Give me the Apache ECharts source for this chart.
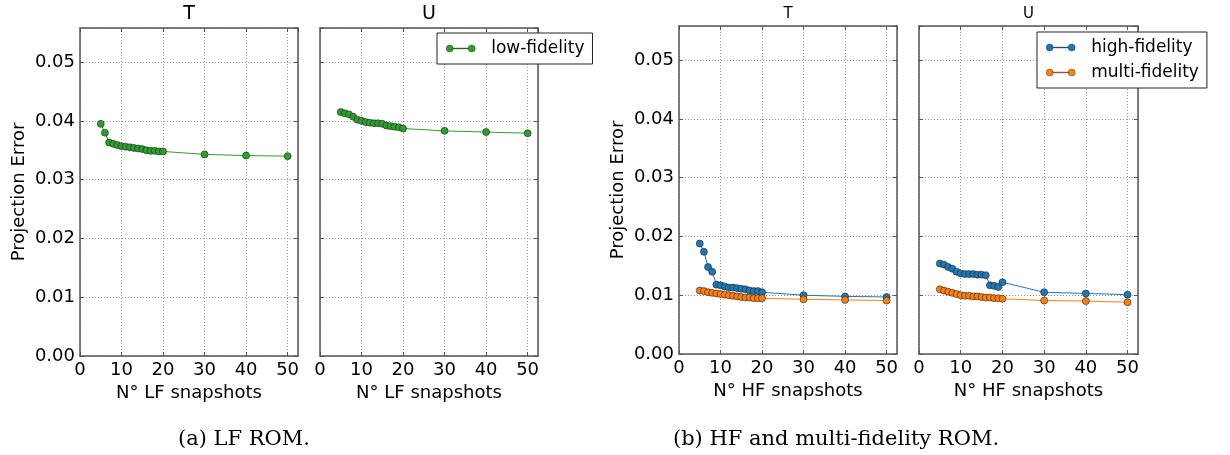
<!DOCTYPE html>
<html>
<head>
<meta charset="utf-8">
<title>Projection error</title>
<script src="https://cdn.jsdelivr.net/npm/echarts@6/dist/echarts.min.js"></script>
<style>
    html, body {
        margin: 0;
        padding: 0;
        background: #fff;
    }
    #chart {
        width: 1230px;
        height: 455px;
    }
</style>
</head>
<body>
<div id="chart"></div>
<script>
// number of snapshots (x values, same for every curve)
const snapshots = [5, 6, 7, 8, 9, 10, 11, 12, 13, 14, 15, 16, 17, 18, 19, 20, 30, 40, 50];

// (a) LF ROM
const lfT = [0.0395, 0.0380, 0.0363, 0.0361, 0.0359, 0.0357, 0.0356, 0.0355, 0.0354, 0.0353,
    0.0352, 0.0350, 0.0349, 0.0349, 0.0348, 0.0348, 0.0343, 0.0341, 0.0340];
const lfU = [0.0415, 0.0413, 0.0411, 0.0407, 0.0402, 0.0400, 0.0398, 0.0397, 0.0396, 0.0396,
    0.0395, 0.0392, 0.0391, 0.0390, 0.0389, 0.0387, 0.0383, 0.0381, 0.0379];

// (b) HF and multi-fidelity ROM
const hfT = [0.0188, 0.0174, 0.0148, 0.0140, 0.0118, 0.0117, 0.0115, 0.0113, 0.0113, 0.0112,
    0.0111, 0.0110, 0.0108, 0.0107, 0.0107, 0.0105, 0.0100, 0.0098, 0.0097];
const mfT = [0.0108, 0.0107, 0.0105, 0.0104, 0.0103, 0.0102, 0.0101, 0.0100, 0.0099, 0.0098,
    0.0097, 0.0096, 0.0096, 0.0095, 0.0095, 0.0095, 0.0093, 0.0092, 0.0091];
const hfU = [0.0154, 0.0152, 0.0148, 0.0145, 0.0140, 0.0137, 0.0136, 0.0136, 0.0136, 0.0135,
    0.0135, 0.0134, 0.0117, 0.0116, 0.0114, 0.0122, 0.0105, 0.0103, 0.0101];
const mfU = [0.0110, 0.0108, 0.0106, 0.0104, 0.0102, 0.0100, 0.0099, 0.0099, 0.0098, 0.0098,
    0.0097, 0.0096, 0.0096, 0.0095, 0.0095, 0.0094, 0.0091, 0.0090, 0.0088];

const xTicks = [0, 10, 20, 30, 40, 50];
const yTicks = [0.00, 0.01, 0.02, 0.03, 0.04, 0.05];

const FONT = 'DejaVu Sans';
const FRAME = '#555';
const COLORS = {
    low: '#2ca02c',
    high: '#1f77b4',
    multi: '#ff7f0e'
};
// two markers joined by a line, like the matplotlib legend handle
const LEGEND_ICON = 'path://M0,3.5A3.5,3.5,0,1,0,7,3.5A3.5,3.5,0,1,0,0,3.5Z'
    + 'M22,3.5A3.5,3.5,0,1,0,29,3.5A3.5,3.5,0,1,0,22,3.5Z'
    + 'M7,3.1L22,3.1L22,3.9L7,3.9Z';

const GRIDS = [
    { left: 80, top: 28, width: 218, height: 328, title: 'T', titleSize: 19 },
    { left: 320, top: 28, width: 218, height: 328, title: 'U', titleSize: 19 },
    { left: 679, top: 26, width: 218, height: 328, title: 'T', titleSize: 15 },
    { left: 919, top: 26, width: 219, height: 328, title: 'U', titleSize: 15 }
];

const X_MIN = xTicks[0];
const X_MAX = 52.5;
const Y_MIN = yTicks[0];
const Y_MAX = 0.0558;

const tickStyle = {
    show: true,
    inside: true,
    length: 4,
    lineStyle: { color: FRAME, width: 1 }
};

function pairs(values) {
    return snapshots.map((x, i) => [x, values[i]]);
}

const xAxes = [];
const yAxes = [];
GRIDS.forEach((g, i) => {
    const isLeft = i === 0 || i === 2;
    // bottom x axis with labels
    xAxes.push({
        gridIndex: i,
        type: 'value',
        min: X_MIN,
        max: X_MAX,
        interval: 10,
        name: i < 2 ? 'N° LF snapshots' : 'N° HF snapshots',
        nameLocation: 'middle',
        nameGap: 27,
        nameTextStyle: { fontFamily: FONT, fontSize: 18, color: '#000' },
        axisLine: { show: true, onZero: false, lineStyle: { color: FRAME, width: 1.5 } },
        axisTick: tickStyle,
        axisLabel: {
            fontFamily: FONT,
            fontSize: 18,
            color: '#000',
            margin: 5,
            showMaxLabel: false
        },
        splitLine: {
            show: true,
            lineStyle: { color: '#999', type: [1, 2], width: 1 }
        }
    });
    // top mirror axis, carries the panel title
    xAxes.push({
        gridIndex: i,
        type: 'value',
        position: 'top',
        min: X_MIN,
        max: X_MAX,
        interval: 10,
        name: g.title,
        nameLocation: 'middle',
        nameGap: 4,
        nameTextStyle: {
            fontFamily: FONT,
            fontSize: g.titleSize,
            color: '#000',
            verticalAlign: 'bottom'
        },
        axisLine: { show: true, onZero: false, lineStyle: { color: FRAME, width: 1.5 } },
        axisTick: tickStyle,
        axisLabel: { show: false },
        splitLine: { show: false }
    });
    yAxes.push({
        gridIndex: i,
        type: 'value',
        min: Y_MIN,
        max: Y_MAX,
        interval: 0.01,
        name: isLeft ? 'Projection Error' : '',
        nameLocation: 'middle',
        nameGap: 52,
        nameTextStyle: { fontFamily: FONT, fontSize: 18, color: '#000' },
        axisLine: { show: true, onZero: false, lineStyle: { color: FRAME, width: 1.5 } },
        axisTick: tickStyle,
        axisLabel: {
            show: isLeft,
            fontFamily: FONT,
            fontSize: 18,
            color: '#000',
            margin: 5,
            showMaxLabel: false,
            formatter: v => v.toFixed(2)
        },
        splitLine: {
            show: true,
            lineStyle: { color: '#999', type: [1, 2], width: 1 }
        }
    });
    // right mirror axis
    yAxes.push({
        gridIndex: i,
        type: 'value',
        position: 'right',
        min: Y_MIN,
        max: Y_MAX,
        interval: 0.01,
        axisLine: { show: true, onZero: false, lineStyle: { color: FRAME, width: 1.5 } },
        axisTick: tickStyle,
        axisLabel: { show: false },
        splitLine: { show: false }
    });
});

function lineSeries(name, color, panel, values) {
    return {
        name: name,
        type: 'line',
        xAxisIndex: panel * 2,
        yAxisIndex: panel * 2,
        data: pairs(values),
        symbol: 'circle',
        symbolSize: 7,
        showAllSymbol: true,
        lineStyle: { color: color, width: 1 },
        itemStyle: { color: color, borderColor: '#222', borderWidth: 0.6 },
        emphasis: { disabled: true },
        animation: false,
        z: name === 'multi-fidelity' ? 3 : 2
    };
}

const legendBase = {
    orient: 'vertical',
    icon: LEGEND_ICON,
    itemWidth: 29,
    itemHeight: 7,
    itemGap: 8,
    padding: [7, 8, 7, 9],
    backgroundColor: '#fff',
    borderColor: '#222',
    borderWidth: 1,
    borderRadius: 0,
    selectedMode: false,
    itemStyle: { borderWidth: 0.4 },
    textStyle: {
        fontFamily: FONT,
        fontSize: 17,
        color: '#000',
        padding: [0, 0, 0, 11]
    }
};

const option = {
    animation: false,
    grid: GRIDS.map(g => ({
        left: g.left,
        top: g.top,
        width: g.width,
        height: g.height,
        containLabel: false
    })),
    xAxis: xAxes,
    yAxis: yAxes,
    legend: [
        {
            ...legendBase,
            left: 437,
            top: 33,
            data: ['low-fidelity']
        },
        {
            ...legendBase,
            left: 1037,
            top: 32,
            data: ['high-fidelity', 'multi-fidelity']
        }
    ],
    series: [
        lineSeries('low-fidelity', COLORS.low, 0, lfT),
        lineSeries('low-fidelity', COLORS.low, 1, lfU),
        lineSeries('high-fidelity', COLORS.high, 2, hfT),
        lineSeries('multi-fidelity', COLORS.multi, 2, mfT),
        lineSeries('high-fidelity', COLORS.high, 3, hfU),
        lineSeries('multi-fidelity', COLORS.multi, 3, mfU)
    ],
    graphic: [
        {
            type: 'text',
            style: {
                x: 244,
                y: 440,
                text: '(a) LF ROM.',
                font: '21px "DejaVu Serif"',
                fill: '#000',
                textAlign: 'center',
                textVerticalAlign: 'middle'
            }
        },
        {
            type: 'text',
            style: {
                x: 836,
                y: 440,
                text: '(b) HF and multi-fidelity ROM.',
                font: '21px "DejaVu Serif"',
                fill: '#000',
                textAlign: 'center',
                textVerticalAlign: 'middle'
            }
        }
    ]
};

const chart = echarts.init(document.getElementById('chart'), null, { renderer: 'canvas' });
chart.setOption(option);
</script>
</body>
</html>
